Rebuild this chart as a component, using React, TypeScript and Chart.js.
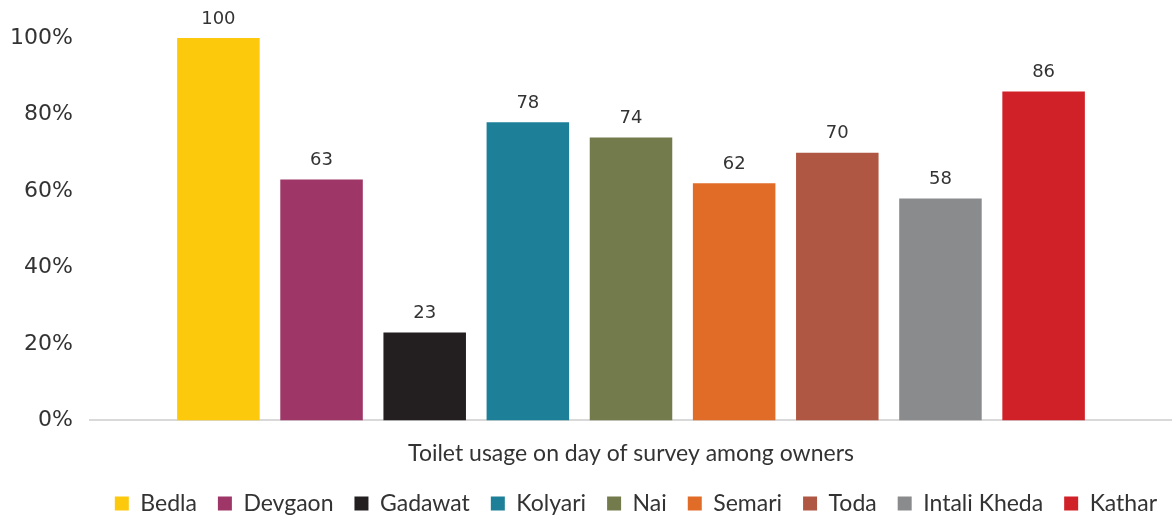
import React, { useEffect, useRef } from "react";
import { Chart, registerables } from "chart.js";

Chart.register(...registerables);

const categories = ["Toilet usage on day of survey among owners"];
const villages = ["Bedla", "Devgaon", "Gadawat", "Kolyari", "Nai", "Semari", "Toda", "Intali Kheda", "Kathar"];
const values = [100, 63, 23, 78, 74, 62, 70, 58, 86];
const colors = ["#FDC90C", "#9E3667", "#231F20", "#1D8098", "#737A4B", "#E06C28", "#B05744", "#8A8B8D", "#D02028"];
const yTicks = [0, 20, 40, 60, 80, 100];

const FONT = "Lato, 'Open Sans', sans-serif";
const NUMFONT = "'DejaVu Sans', Lato, sans-serif";
const TEXT = "#333333";

const valueLabels = {
  id: "valueLabels",
  afterDatasetsDraw(chart: any) {
    const ctx = chart.ctx;
    ctx.save();
    ctx.font = `18px ${NUMFONT}`;
    ctx.fillStyle = TEXT;
    ctx.textAlign = "center";
    ctx.textBaseline = "bottom";
    chart.data.datasets.forEach((ds: any, i: number) => {
      const meta = chart.getDatasetMeta(i);
      meta.data.forEach((bar: any, j: number) => {
        ctx.fillText(String(ds.data[j]), bar.x, bar.y - 10);
      });
    });
    ctx.restore();
  },
};

export default function App() {
  const ref = useRef<HTMLCanvasElement>(null);
  useEffect(() => {
    document.body.style.margin = "0";
    const chart = new Chart(ref.current!, {
      type: "bar",
      data: {
        labels: categories,
        datasets: villages.map((v, i) => ({
          label: v,
          data: [values[i]],
          backgroundColor: colors[i],
          categoryPercentage: 0.858,
          barPercentage: 0.8,
        })),
      },
      options: {
        animation: false,
        responsive: false,
        maintainAspectRatio: false,
        layout: { padding: { top: 38, right: -6, left: 0, bottom: -8 } },
        plugins: {
          tooltip: { enabled: false },
          legend: {
            position: "bottom",
            align: "end",
            labels: {
              boxWidth: 14,
              boxHeight: 14,
              padding: 21,
              color: TEXT,
              font: { family: FONT, size: 23 },
            },
          },
        },
        scales: {
          x: {
            grid: { display: false },
            border: { display: true, color: "#D9D9D9", width: 2 },
            ticks: { display: false },
            title: {
              display: true,
              text: categories[0],
              color: TEXT,
              font: { family: FONT, size: 23 },
              padding: { top: 11, bottom: 4 },
            },
          },
          y: {
            min: 0,
            max: 100,
            afterFit(scale: any) {
              scale.width = 90;
            },
            afterBuildTicks(scale: any) {
              scale.ticks = yTicks.map((v) => ({ value: v }));
            },
            grid: { display: false },
            border: { display: false },
            ticks: {
              padding: 9,
              color: TEXT,
              font: { family: NUMFONT, size: 22 },
              callback: (v: any) => `${v}%`,
            },
          },
        },
      },
      plugins: [valueLabels],
    });
    return () => chart.destroy();
  }, []);
  return <canvas ref={ref} width={1172} height={517} style={{ display: "block" }} />;
}
